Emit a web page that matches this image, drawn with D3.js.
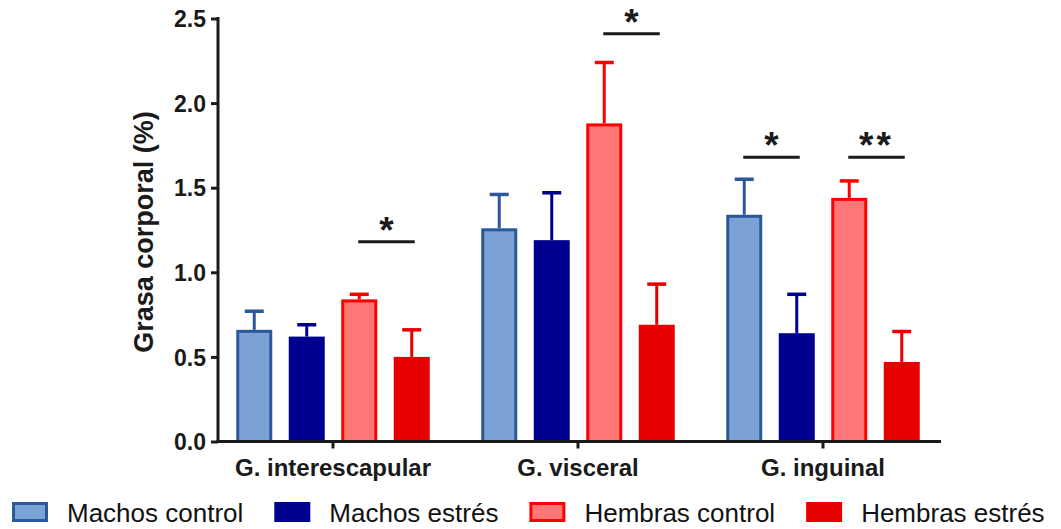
<!DOCTYPE html>
<html>
<head>
<meta charset="utf-8">
<script src="https://cdn.jsdelivr.net/npm/d3@7"></script>
<style>
  html, body { margin: 0; padding: 0; background: #fff; }
  svg { display: block; font-family: "Liberation Sans", Arial, Helvetica, sans-serif; }
</style>
</head>
<body>
<svg id="chart" width="1061" height="529"></svg>
<script>
// Fat depots (categories) and experimental groups (series)
const groups = ["G. interescapular", "G. visceral", "G. inguinal"];
const series = ["Machos control", "Machos estrés", "Hembras control", "Hembras estrés"];

// Mean body fat (%) per depot, one array per series
const machosControl  = [0.66, 1.26, 1.34];
const machosEstres   = [0.62, 1.19, 0.64];
const hembrasControl = [0.84, 1.88, 1.44];
const hembrasEstres  = [0.50, 0.69, 0.47];

// Upper end of the error bar (mean + SEM)
const machosControlErr  = [0.77, 1.46, 1.55];
const machosEstresErr   = [0.69, 1.47, 0.87];
const hembrasControlErr = [0.87, 2.24, 1.54];
const hembrasEstresErr  = [0.66, 0.93, 0.65];

const yTicks = [0, 0.5, 1.0, 1.5, 2.0, 2.5];

// Significance brackets: depot, compared series, bracket level, label
const sigGroup = ["G. interescapular", "G. visceral", "G. inguinal", "G. inguinal"];
const sigFrom  = ["Hembras control", "Hembras control", "Machos control", "Hembras control"];
const sigTo    = ["Hembras estrés", "Hembras estrés", "Machos estrés", "Hembras estrés"];
const sigLevel = [1.18, 2.41, 1.68, 1.68];
const sigLabel = ["*", "*", "*", "**"];

const means = [machosControl, machosEstres, hembrasControl, hembrasEstres];
const errs  = [machosControlErr, machosEstresErr, hembrasControlErr, hembrasEstresErr];

const style = {
  "Machos control":  { fill: "#7ca2d5", stroke: "#2b579b", sw: 3 },
  "Machos estrés":   { fill: "#000090", stroke: "#000090", sw: 0 },
  "Hembras control": { fill: "#ff7676", stroke: "#ff0000", sw: 3 },
  "Hembras estrés":  { fill: "#e60000", stroke: "#e60000", sw: 0 }
};

const svg = d3.select("#chart");
const axisLeft = 218, axisRight = 941, axisBottom = 441.5, axisTop = 18.5;

const y = d3.scaleLinear().domain([0, 2.5]).range([axisBottom, axisTop]);
const x0 = d3.scaleBand().domain(groups).range([210.5, 945.5]);
const x1 = d3.scaleBand().domain(series)
  .range([-105, 105]).paddingInner(16.5 / 52.5).paddingOuter(8.25 / 52.5);
const cx = g => x0(g) + x0.bandwidth() / 2;

const rows = [];
groups.forEach((g, gi) => series.forEach((s, si) => {
  rows.push({ g, s, v: means[si][gi], e: errs[si][gi] });
}));

// Error bars (drawn first so bars sit over the stem base)
const eb = svg.append("g");
rows.forEach(d => {
  const st = style[d.s];
  const xc = cx(d.g) + x1(d.s) + x1.bandwidth() / 2;
  const col = st.sw ? st.stroke : st.fill;
  eb.append("line").attr("x1", xc).attr("x2", xc)
    .attr("y1", y(d.v)).attr("y2", y(d.e))
    .attr("stroke", col).attr("stroke-width", 3);
  eb.append("line").attr("x1", xc - 9.5).attr("x2", xc + 9.5)
    .attr("y1", y(d.e)).attr("y2", y(d.e))
    .attr("stroke", col).attr("stroke-width", 3.5);
});

// Bars
svg.append("g").selectAll("rect").data(rows).join("rect")
  .attr("x", d => cx(d.g) + x1(d.s) + style[d.s].sw / 2)
  .attr("width", d => x1.bandwidth() - style[d.s].sw)
  .attr("y", d => y(d.v) + style[d.s].sw / 2)
  .attr("height", d => y(0) - y(d.v) - style[d.s].sw / 2)
  .attr("fill", d => style[d.s].fill)
  .attr("stroke", d => style[d.s].sw ? style[d.s].stroke : "none")
  .attr("stroke-width", d => style[d.s].sw);

// Y axis
const ya = svg.append("g").attr("transform", `translate(${axisLeft},0)`)
  .call(d3.axisLeft(y).tickValues(yTicks).tickFormat(d3.format(".1f")).tickSize(7).tickPadding(5));
ya.select(".domain").attr("stroke", "#1a1a1a").attr("stroke-width", 3)
  .attr("d", `M0,${axisTop - 1.5}V${axisBottom}`);
ya.selectAll(".tick line").attr("stroke", "#1a1a1a").attr("stroke-width", 3);
ya.selectAll(".tick text").attr("fill", "#1a1a1a")
  .style("font-size", "23px").style("font-weight", "bold").attr("dy", "0.36em");

// X axis
const xa = svg.append("g").attr("transform", `translate(0,${axisBottom})`)
  .call(d3.axisBottom(x0).tickSize(7).tickPadding(10));
xa.select(".domain").attr("stroke", "#1a1a1a").attr("stroke-width", 3)
  .attr("d", `M${axisLeft - 1.5},0H${axisRight}`);
xa.selectAll(".tick line").attr("stroke", "#1a1a1a").attr("stroke-width", 3);
xa.selectAll(".tick text").attr("fill", "#1a1a1a")
  .style("font-size", "24px").style("font-weight", "bold");

// Y axis title
svg.append("text")
  .attr("transform", `translate(153,${(axisTop + axisBottom) / 2 + 2}) rotate(-90)`)
  .attr("text-anchor", "middle")
  .style("font-size", "27px").style("font-weight", "bold").attr("fill", "#1a1a1a")
  .text("Grasa corporal (%)");

// Significance brackets
const sg = svg.append("g");
sigLevel.forEach((lv, i) => {
  const g = sigGroup[i];
  const xa1 = cx(g) + x1(sigFrom[i]) + x1.bandwidth() / 2;
  const xb1 = cx(g) + x1(sigTo[i]) + x1.bandwidth() / 2;
  sg.append("line").attr("x1", xa1 - 1).attr("x2", xb1 + 3)
    .attr("y1", y(lv)).attr("y2", y(lv))
    .attr("stroke", "#1a1a1a").attr("stroke-width", 3);
  sg.append("text").attr("x", (xa1 + xb1) / 2 + 1).attr("y", y(lv) + 1)
    .attr("text-anchor", "middle")
    .style("font-size", "37px").style("font-weight", "bold")
    .style("letter-spacing", sigLabel[i].length > 1 ? "3px" : "0px")
    .attr("fill", "#1a1a1a")
    .text(sigLabel[i]);
});

// Legend along the bottom edge
const lg = svg.append("g").attr("transform", "translate(12,502)");
let lx = 0;
series.forEach(s => {
  const st = style[s];
  const item = lg.append("g").attr("transform", `translate(${lx},0)`);
  item.append("rect")
    .attr("x", st.sw / 2).attr("y", st.sw / 2)
    .attr("width", 36 - st.sw).attr("height", 20 - st.sw)
    .attr("fill", st.fill)
    .attr("stroke", st.sw ? st.stroke : "none").attr("stroke-width", st.sw);
  const t = item.append("text").attr("x", 55).attr("y", 20)
    .style("font-size", "26px").attr("fill", "#111").text(s);
  lx += 55 + t.node().getComputedTextLength() + 31;
});
</script>
</body>
</html>
